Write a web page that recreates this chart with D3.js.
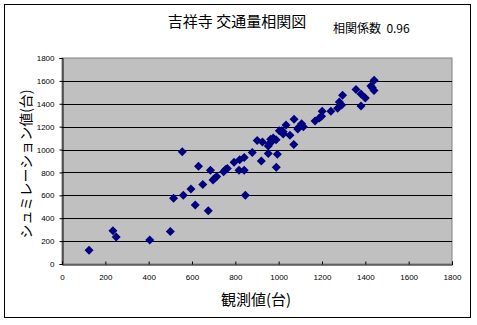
<!DOCTYPE html>
<html><head><meta charset="utf-8">
<script src="https://cdn.jsdelivr.net/npm/d3@7"></script>
<style>
body{margin:0;background:#fff;}
svg{display:block;}
</style></head>
<body>
<svg id="c" width="477" height="325"></svg>
<script>
const titleText = "吉祥寺 交通量相関図";
const corrText = "相関係数\u00a0\u00a00.96";
const xTitle = "観測値(台)";
const yTitle = "シュミレーション値(台)";
const xTicks = [0,200,400,600,800,1000,1200,1400,1600,1800];
const yTicks = [0,200,400,600,800,1000,1200,1400,1600,1800];
const observed = [125,235,250,405,500,515,555,560,595,615,630,650,675,685,697,705,714,746,755,763,794,817,820,841,841,846,878,901,920,925,952,952,957,963,968,975,988,989,994,1003,1014,1021,1021,1034,1052,1070,1071,1088,1095,1106,1114,1168,1188,1198,1201,1241,1272,1280,1291,1295,1357,1380,1380,1400,1426,1432,1440,1441];
const simulated = [120,290,235,210,285,575,980,600,655,515,855,695,465,820,735,750,765,805,825,835,890,820,910,930,820,600,975,1080,900,1065,965,1030,1050,1090,1070,1100,1085,845,960,1165,1165,1135,1155,1215,1125,1045,1265,1180,1200,1225,1200,1250,1275,1290,1335,1335,1360,1415,1390,1475,1525,1485,1380,1450,1555,1540,1515,1605];

const svg = d3.select("#c");
const jp = "'Noto Sans CJK JP', sans-serif";
const num = "'Liberation Sans', Arial, sans-serif";

// outer border
svg.append("rect").attr("x",4.5).attr("y",4.5).attr("width",466).attr("height",313)
  .attr("fill","#fff").attr("stroke","#000").attr("stroke-width",1);

const L=62, R=452, T=58, B=264;
const x = d3.scaleLinear().domain([0,1800]).range([L,R]);
const y = d3.scaleLinear().domain([0,1800]).range([B,T]);

svg.append("rect").attr("x",L).attr("y",T).attr("width",R-L).attr("height",B-T)
  .attr("fill","#c0c0c0").attr("stroke","#808080").attr("stroke-width",1);

// gridlines
svg.append("g").selectAll("line").data(yTicks.filter(d=>d>0 && d<1800)).join("line")
  .attr("x1",L).attr("x2",R).attr("y1",d=>Math.round(y(d))+0.5).attr("y2",d=>Math.round(y(d))+0.5)
  .attr("stroke","#000").attr("stroke-width",1);

// axes
const xa = svg.append("g").attr("transform",`translate(0,${B+0.5})`)
  .call(d3.axisBottom(x).tickValues(xTicks).tickSize(-3).tickPadding(10).tickFormat(d3.format("d")));
const ya = svg.append("g").attr("transform",`translate(${L+0.5},0)`)
  .call(d3.axisLeft(y).tickValues(yTicks).tickSize(3).tickPadding(5).tickFormat(d3.format("d")));
[xa,ya].forEach(g=>{
  g.select(".domain").attr("stroke","#000");
  g.selectAll(".tick line").attr("stroke","#000");
  g.selectAll("text").attr("font-family",num).attr("font-size",8).attr("fill","#000");
});

// points (square diamond)
const diamond = "M0,-4.5L4.5,0L0,4.5L-4.5,0Z";
svg.append("g").selectAll("path").data(observed.map((o,i)=>[o,simulated[i]])).join("path")
  .attr("d",diamond)
  .attr("transform",d=>`translate(${x(d[0])},${y(d[1])})`)
  .attr("fill","#000080");

// titles
svg.append("text").attr("x",237).attr("y",27).attr("text-anchor","middle")
  .attr("font-family",jp).attr("font-size",15).text(titleText);
svg.append("text").attr("x",333).attr("y",33)
  .attr("font-family",jp).attr("font-size",12).text(corrText);
svg.append("text").attr("x",256).attr("y",305).attr("text-anchor","middle")
  .attr("font-family",jp).attr("font-size",15).text(xTitle);
svg.append("text").attr("transform","translate(31,164) rotate(-90)").attr("text-anchor","middle")
  .attr("font-family",jp).attr("font-size",14).text(yTitle);
</script>
</body></html>
